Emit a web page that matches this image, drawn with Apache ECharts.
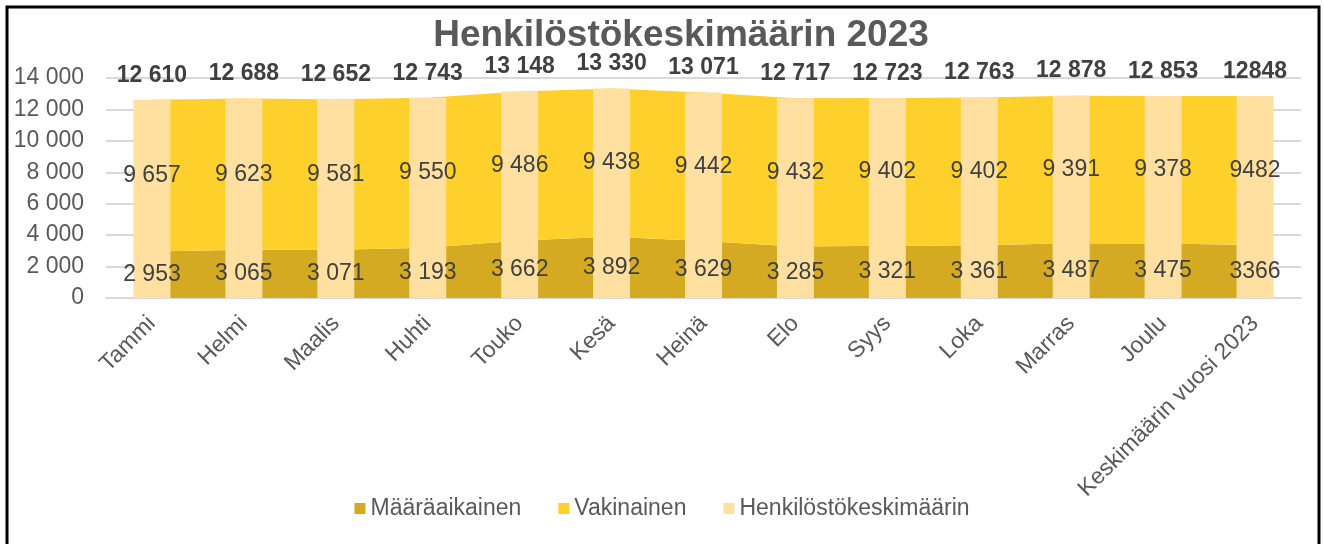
<!DOCTYPE html>
<html>
<head>
<meta charset="utf-8">
<script src="https://cdn.jsdelivr.net/npm/echarts@6/dist/echarts.min.js"></script>
<style>
  html, body { margin: 0; padding: 0; background: #ffffff; }
  #chart { width: 1324px; height: 544px; }
</style>
</head>
<body>
<div id="chart"></div>
<script>
const categories = ['Tammi', 'Helmi', 'Maalis', 'Huhti', 'Touko', 'Kesä', 'Heinä', 'Elo', 'Syys', 'Loka', 'Marras', 'Joulu', 'Keskimäärin vuosi 2023'];
const maaraaikainen = [2953, 3065, 3071, 3193, 3662, 3892, 3629, 3285, 3321, 3361, 3487, 3475, 3366];
const vakinainen = [9657, 9623, 9581, 9550, 9486, 9438, 9442, 9432, 9402, 9402, 9391, 9378, 9482];
const henkilosto = [12610, 12688, 12652, 12743, 13148, 13330, 13071, 12717, 12723, 12763, 12878, 12853, 12848];
const yTicks = [0, 2000, 4000, 6000, 8000, 10000, 12000, 14000];

const FONT = '"Liberation Sans", Arial, sans-serif';
const C_DARK = '#D4AA22';
const C_YEL = '#FED02B';
const C_LIGHT = '#FFE0A0';

function fmt(v, noSep) {
  const s = String(v);
  if (noSep) return s;
  return s.replace(/\B(?=(\d{3})+(?!\d))/g, '\u00A0');
}
const lastIdx = categories.length - 1;

const chart = echarts.init(document.getElementById('chart'), null, { renderer: 'canvas' });
chart.setOption({
  animation: false,
  backgroundColor: '#ffffff',
  title: {
    text: 'Henkilöstökeskimäärin 2023',
    left: 676,
    textAlign: 'center',
    top: 12,
    textStyle: { fontFamily: FONT, fontSize: 37, fontWeight: 'bold', color: '#595959' }
  },
  legend: {
    data: ['Määräaikainen', 'Vakinainen', 'Henkilöstökeskimäärin'],
    bottom: 19,
    left: 'center',
    icon: 'rect',
    itemWidth: 11,
    itemHeight: 11,
    itemGap: 37,
    textStyle: { fontFamily: FONT, fontSize: 23, color: '#595959' }
  },
  grid: { left: 106, right: 23, top: 78, bottom: 246, containLabel: false },
  xAxis: {
    type: 'category',
    data: categories,
    boundaryGap: true,
    axisLine: { lineStyle: { color: '#D9D9D9', width: 2 } },
    axisTick: { show: false },
    axisLabel: {
      rotate: 45,
      interval: 0,
      margin: 22,
      fontFamily: FONT,
      fontSize: 23,
      color: '#595959'
    }
  },
  yAxis: {
    type: 'value',
    min: 0,
    max: 14000,
    interval: 2000,
    axisLine: { show: false },
    axisTick: { show: false },
    splitLine: { lineStyle: { color: '#D9D9D9', width: 2 } },
    axisLabel: {
      margin: 22,
      fontFamily: FONT,
      fontSize: 23,
      color: '#595959',
      formatter: v => fmt(v)
    }
  },
  graphic: [
    { type: 'polyline', shape: { points: [[7, 560], [7, 7], [1319, 7], [1319, 560]] },
      style: { stroke: '#000000', lineWidth: 3, fill: null }, z: 100 }
  ],
  series: [
    {
      name: 'Määräaikainen',
      type: 'line',
      stack: 'area',
      data: maaraaikainen,
      showSymbol: false,
      symbol: 'none',
      lineStyle: { width: 0 },
      itemStyle: { color: C_DARK },
      areaStyle: { color: C_DARK, opacity: 1 },
      z: 1
    },
    {
      name: 'Vakinainen',
      type: 'line',
      stack: 'area',
      data: vakinainen,
      showSymbol: false,
      symbol: 'none',
      lineStyle: { width: 0 },
      itemStyle: { color: C_YEL },
      areaStyle: { color: C_YEL, opacity: 1 },
      z: 1
    },
    {
      name: 'Henkilöstökeskimäärin',
      type: 'bar',
      data: henkilosto,
      barWidth: 37,
      barGap: '-100%',
      itemStyle: { color: C_LIGHT },
      label: {
        show: true,
        position: 'top',
        distance: 13,
        fontFamily: FONT,
        fontSize: 23,
        fontWeight: 'bold',
        color: '#404040',
        formatter: p => fmt(p.value, p.dataIndex === lastIdx)
      },
      z: 3
    },
    {
      name: 'lblMaara',
      type: 'bar',
      stack: 'lbl',
      data: maaraaikainen,
      barWidth: 37,
      barGap: '-100%',
      itemStyle: { color: 'rgba(0,0,0,0)' },
      label: {
        show: true,
        position: 'inside',
        fontFamily: FONT,
        fontSize: 23,
        color: '#404040',
        formatter: p => fmt(p.value, p.dataIndex === lastIdx)
      },
      z: 4
    },
    {
      name: 'lblVak',
      type: 'bar',
      stack: 'lbl',
      data: vakinainen,
      barWidth: 37,
      barGap: '-100%',
      itemStyle: { color: 'rgba(0,0,0,0)' },
      label: {
        show: true,
        position: 'inside',
        fontFamily: FONT,
        fontSize: 23,
        color: '#404040',
        formatter: p => fmt(p.value, p.dataIndex === lastIdx)
      },
      z: 4
    }
  ]
});
</script>
</body>
</html>
